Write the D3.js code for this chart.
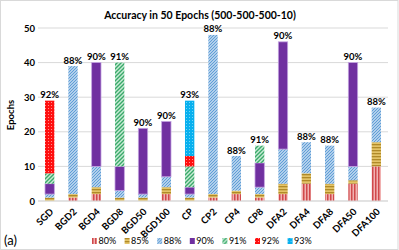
<!DOCTYPE html>
<html>
<head>
<meta charset="utf-8">
<script src="https://cdn.jsdelivr.net/npm/d3@7"></script>
<style>
  body { margin: 0; background: #fff; }
  text { font-family: Lato, "Liberation Sans", sans-serif; fill: #000; }
</style>
</head>
<body>
<script>
const categories = ["SGD","BGD2","BGD4","BGD8","BGD50","BGD100","CP","CP2","CP4","CP8","DFA2","DFA4","DFA8","DFA50","DFA100"]
const seriesNames = ["80%","85%","88%","90%","91%","92%","93%"]
const s80 = [0,1,2,0,0,2,0,1,2,1,2,5,2,5,10]
const s85 = [1,1,2,1,1,2,1,1,1,1,3,3,3,1,7]
const s88 = [1,37,6,2,1,3,1,46,10,2,10,9,11,4,10]
const s90 = [3,0,30,7,19,16,2,0,0,7,31,0,0,30,0]
const s91 = [3,0,0,30,0,0,6,0,0,5,0,0,0,0,0]
const s92 = [21,0,0,0,0,0,3,0,0,0,0,0,0,0,0]
const s93 = [0,0,0,0,0,0,16,0,0,0,0,0,0,0,0]
const topLabels = ["92%","88%","90%","91%","90%","90%","93%","88%","88%","91%","90%","88%","88%","90%","88%"]
const yTicks = [0,10,20,30,40,50]

const W = 399, H = 250
const svg = d3.select("body").append("svg").attr("width", W).attr("height", H)

// patterns, one per series
const defs = svg.append("defs")
function pat(id, w, h, draw) {
    const p = defs.append("pattern").attr("id", id).attr("patternUnits","userSpaceOnUse")
        .attr("width", w).attr("height", h)
    draw(p)
}
pat("p80", 3, 3, p => {
    p.append("rect").attr("width",3).attr("height",3).attr("fill","#f1b1b1")
    p.append("rect").attr("width",1.5).attr("height",3).attr("fill","#d0494b")
})
pat("p85", 3, 3, p => {
    p.append("rect").attr("width",3).attr("height",3).attr("fill","#e4c468")
    p.append("rect").attr("width",3).attr("height",1.3).attr("fill","#b08a28")
})
pat("p88", 3, 3, p => {
    p.append("rect").attr("width",3).attr("height",3).attr("fill","#d8e7f6")
    p.append("path").attr("d","M-1,1 L1,-1 M0,3 L3,0 M2,4 L4,2").attr("stroke","#5b9bd5").attr("stroke-width",1.2)
})
pat("p91", 4, 4, p => {
    p.append("rect").attr("width",4).attr("height",4).attr("fill","#c9ebd6")
    p.append("path").attr("d","M-1,1 L1,-1 M0,4 L4,0 M3,5 L5,3").attr("stroke","#3aaa6a").attr("stroke-width",1.4)
})
pat("p92", 3, 3, p => {
    p.append("rect").attr("width",3).attr("height",3).attr("fill","#ff1010")
    p.append("rect").attr("width",1).attr("height",1).attr("fill","#ff9090")
})
pat("p93", 3, 3, p => {
    p.append("rect").attr("width",3).attr("height",3).attr("fill","#08b0ee")
    p.append("rect").attr("width",1).attr("height",1).attr("fill","#70d4f8")
})
const fills = ["url(#p80)","url(#p85)","url(#p88)","#7030a0","url(#p91)","url(#p92)","url(#p93)"]

// frame
svg.append("rect").attr("x",0.5).attr("y",0.5).attr("width",397.5).attr("height",249)
    .attr("fill","none").attr("stroke","#d9d9d9")

const x = d3.scaleBand().domain(categories).range([38, 388]).paddingInner(0.6).paddingOuter(0.3)
const y = d3.scaleLinear().domain([0, 50]).range([201, 28])

// gridlines
svg.append("g").selectAll("line").data(yTicks).join("line")
    .attr("x1", 38).attr("x2", 388)
    .attr("y1", d => y(d)).attr("y2", d => y(d))
    .attr("stroke", "#d9d9d9").attr("stroke-width", 1)

// y axis
const yAxis = svg.append("g").attr("transform","translate(36,0)")
    .call(d3.axisLeft(y).tickValues(yTicks).tickSize(0).tickPadding(1))
yAxis.select(".domain").remove()
yAxis.selectAll("text").attr("font-size", 9.5).attr("font-weight","bold")
    .style("font-family","Lato, sans-serif")

// stacked bars
const rows = categories.map((c, i) => ({cat: c, "80%": s80[i], "85%": s85[i], "88%": s88[i], "90%": s90[i], "91%": s91[i], "92%": s92[i], "93%": s93[i]}))
const stacked = d3.stack().keys(seriesNames)(rows)

svg.append("g").selectAll("g").data(stacked).join("g")
    .attr("fill", (d, i) => fills[i])
    .each(function(s) {
        d3.select(this).selectAll("rect").data(s.filter(d => d[1] - d[0] > 0)).join("rect")
            .attr("x", d => x(d.data.cat))
            .attr("width", x.bandwidth())
            .attr("y", d => y(d[1]))
            .attr("height", d => y(d[0]) - y(d[1]))
            .attr("stroke", s.key === "90%" ? "#c3a3e0" : "none")
            .attr("stroke-width", 0.8)
    })

// top labels
const totals = rows.map(r => d3.sum(seriesNames, k => r[k]))
svg.append("g").selectAll("text").data(categories).join("text")
    .attr("x", d => x(d) + x.bandwidth() / 2)
    .attr("y", (d, i) => y(totals[i]) - 2.5)
    .attr("text-anchor","middle").attr("font-size", 9.5).attr("font-weight","bold")
    .text((d, i) => topLabels[i])

// x axis line
svg.append("line").attr("x1",38).attr("x2",388).attr("y1",y(0)).attr("y2",y(0))
    .attr("stroke","#d9d9d9")

// x labels
svg.append("g").selectAll("text").data(categories).join("text")
    .attr("transform", d => `translate(${x(d) + x.bandwidth() / 2 + 2},210) rotate(-45)`)
    .attr("text-anchor","end").attr("dy","0.35em")
    .attr("font-size", 9.5).attr("font-weight","bold")
    .text(d => d)

// title
svg.append("text").attr("x", 200).attr("y", 18.5).attr("text-anchor","middle")
    .attr("font-size", 10.5).attr("font-weight","bold")
    .text("Accuracy in 50 Epochs (500-500-500-10)")

// y label
svg.append("text").attr("transform","translate(14,115) rotate(-90)")
    .attr("text-anchor","middle").attr("font-size", 9.5).attr("font-weight","bold")
    .text("Epochs")

// panel tag
svg.append("text").attr("x", 4).attr("y", 245).attr("font-size", 13).text("(a)")

// legend
const legend = svg.append("g").selectAll("g").data(seriesNames).join("g")
    .attr("transform", (d, i) => `translate(${92 + i * 32.6},238)`)
legend.append("rect").attr("width", 5).attr("height", 6).attr("fill", (d, i) => fills[i])
legend.append("text").attr("x", 6.5).attr("y", 6).attr("font-size", 9).text(d => d)
</script>
</body>
</html>
